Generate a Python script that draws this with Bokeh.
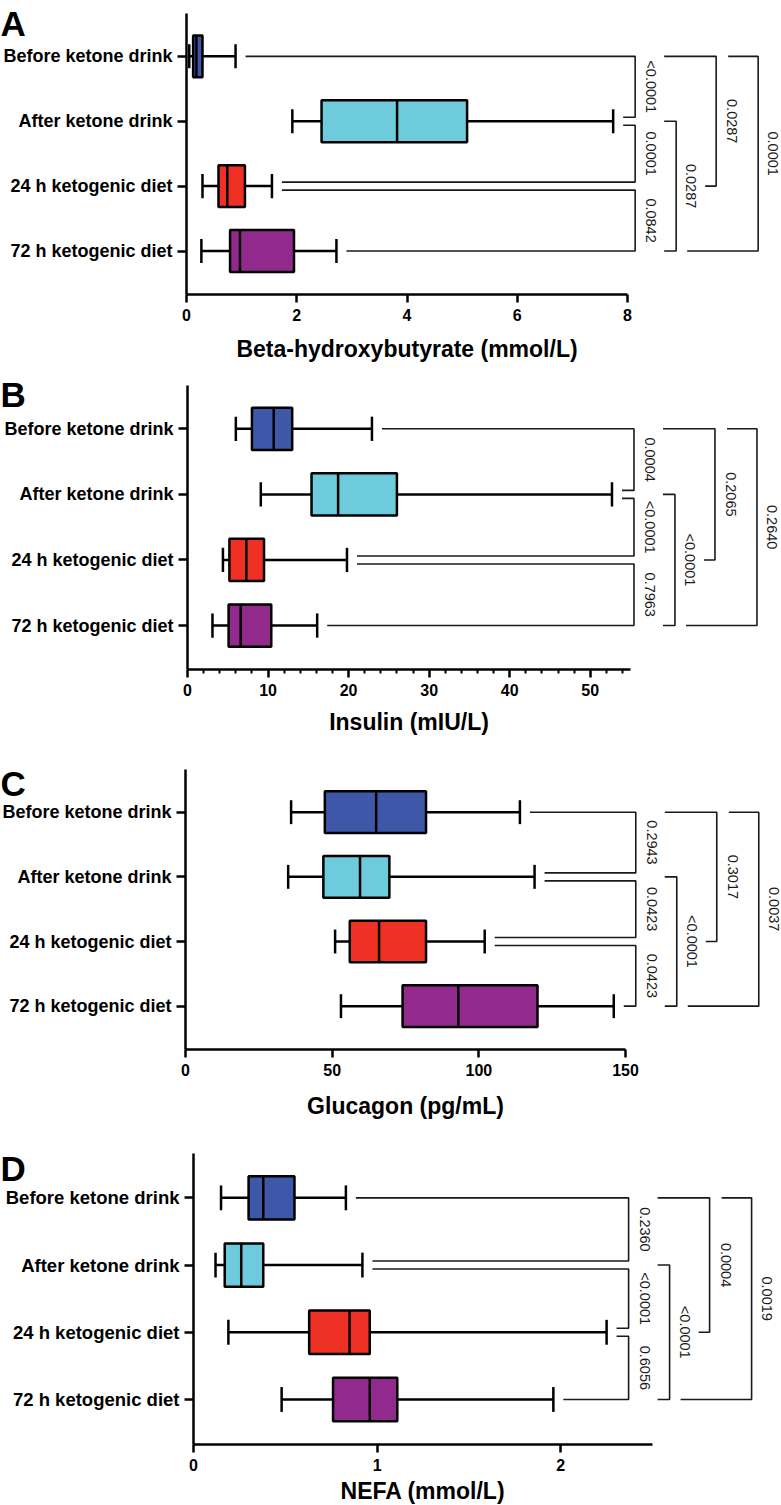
import math
from bokeh.plotting import figure
from bokeh.models import Range1d, FixedTicker, LinearAxis
from bokeh.embed import file_html
from bokeh.resources import INLINE
from bokeh.core.properties import value

# ---------------- data ----------------
categories = ["Before ketone drink", "After ketone drink",
              "24 h ketogenic diet", "72 h ketogenic diet"]
box_colors = ["#3f57a8", "#6dcbdc", "#ee3124", "#922a8e"]

# A: Beta-hydroxybutyrate (mmol/L)
bhb_low = [0.05, 1.92, 0.29, 0.27]
bhb_q1 = [0.12, 2.45, 0.58, 0.79]
bhb_med = [0.18, 3.82, 0.74, 0.97]
bhb_q3 = [0.29, 5.09, 1.06, 1.95]
bhb_high = [0.89, 7.74, 1.55, 2.72]
bhb_ticks = [0, 2, 4, 6, 8]
bhb_p_adjacent = ["<0.0001", "0.0001", "0.0842"]
bhb_p_skip = ["0.0287", "0.0287"]   # Before vs 24 h, After vs 72 h
bhb_p_outer = "0.0001"

# B: Insulin (mIU/L)
ins_low = [6.0, 9.1, 4.4, 3.1]
ins_q1 = [8.0, 15.4, 5.2, 5.1]
ins_med = [10.7, 18.7, 7.3, 6.6]
ins_q3 = [13.0, 26.0, 9.5, 10.4]
ins_high = [22.9, 52.7, 19.8, 16.1]
ins_ticks = [0, 10, 20, 30, 40, 50]
ins_minor = [2, 4, 6, 8, 12, 14, 16, 18, 22, 24, 26, 28, 32, 34, 36, 38,
             42, 44, 46, 48, 52, 54]
ins_p_adjacent = ["0.0004", "<0.0001", "0.7963"]
ins_p_skip = ["0.2065", "<0.0001"]
ins_p_outer = "0.2640"

# C: Glucagon (pg/mL)
glu_low = [36, 35, 51, 53]
glu_q1 = [47.5, 47, 56, 74]
glu_med = [65, 59.5, 66, 93]
glu_q3 = [82, 69.5, 82, 120]
glu_high = [114, 119, 102, 146]
glu_ticks = [0, 50, 100, 150]
glu_p_adjacent = ["0.2943", "0.0423", "0.0423"]
glu_p_skip = ["0.3017", "<0.0001"]
glu_p_outer = "0.0037"

# D: NEFA (mmol/L)
nefa_low = [0.15, 0.12, 0.19, 0.48]
nefa_q1 = [0.30, 0.17, 0.63, 0.76]
nefa_med = [0.38, 0.26, 0.85, 0.96]
nefa_q3 = [0.55, 0.38, 0.96, 1.11]
nefa_high = [0.83, 0.92, 2.25, 1.96]
nefa_ticks = [0, 1, 2]
nefa_p_adjacent = ["0.2360", "<0.0001", "0.6056"]
nefa_p_skip = ["0.0004", "<0.0001"]
nefa_p_outer = "0.0019"

# ---------------- layout (page pixels) ----------------
FONT = "Liberation Sans"
FIG_W, FIG_H = 781, 1505
PAGE_X0, PAGE_Y0 = 0, 0
Y0, Y1 = -0.67, 3.66     # category band limits of each panel's plotting area

fig = figure(width=FIG_W, height=FIG_H, x_range=Range1d(0, 1), y_range=Range1d(0, 1),
             x_axis_location=None, y_axis_location=None,
             output_backend="svg", toolbar_location=None,
             min_border_left=0, min_border_right=0, min_border_top=0, min_border_bottom=0)
fig.outline_line_color = None
fig.grid.visible = False

extra_x, extra_y = {}, {}
panels = []


def add_panel(key, xlabel, low, q1, med, q3, high, ticks, minor, axis_max,
              p_adj, p_skip, p_outer, g):
    ppx = (g["axis_end"] - g["left"]) / axis_max
    ppy = (g["bottom"] - g["top"]) / (Y1 - Y0)
    xr = Range1d((PAGE_X0 - g["left"]) / ppx, (PAGE_X0 + FIG_W - g["left"]) / ppx)
    yr = Range1d(Y1 - (PAGE_Y0 + FIG_H - g["top"]) / ppy, Y1 + (g["top"] - PAGE_Y0) / ppy)
    extra_x[key] = xr
    extra_y[key] = yr
    panels.append((key, xlabel, low, q1, med, q3, high, ticks, minor, axis_max,
                   p_adj, p_skip, p_outer, g, ppx, ppy))


def draw_panel(key, xlabel, low, q1, med, q3, high, ticks, minor, axis_max,
               p_adj, p_skip, p_outer, g, ppx, ppy):
    kw = dict(x_range_name=key, y_range_name=key)
    ys = [3 - i for i in range(len(categories))]
    n = len(categories)
    lw = 2.5
    # whiskers and caps
    fig.segment(x0=low, y0=ys, x1=q1, y1=ys, line_color="black", line_width=lw, **kw)
    fig.segment(x0=q3, y0=ys, x1=high, y1=ys, line_color="black", line_width=lw, **kw)
    cap = 0.185
    fig.segment(x0=low, y0=[y - cap for y in ys], x1=low, y1=[y + cap for y in ys],
                line_color="black", line_width=lw, **kw)
    fig.segment(x0=high, y0=[y - cap for y in ys], x1=high, y1=[y + cap for y in ys],
                line_color="black", line_width=lw, **kw)
    # boxes and medians
    bh = 0.645
    fig.hbar(y=ys, height=bh, left=q1, right=q3, fill_color=box_colors,
             line_color="black", line_width=lw, **kw)
    fig.segment(x0=med, y0=[y - bh / 2 for y in ys], x1=med, y1=[y + bh / 2 for y in ys],
                line_color="black", line_width=lw, **kw)

    # significance brackets
    gap = 10 / ppx
    starts = [h + gap for h in high]
    L1 = max(high) + 22 / ppx
    off = 4 / ppy
    bx, by, tx, ty, tt = [], [], [], [], []
    for i in range(n - 1):
        top_y = ys[i] - (off if i > 0 else 0)
        bot_y = ys[i + 1] + (off if i + 1 < n - 1 else 0)
        bx.append([starts[i], L1, L1, starts[i + 1]])
        by.append([top_y, top_y, bot_y, bot_y])
        tx.append(L1 + 16 / ppx); ty.append((top_y + bot_y) / 2); tt.append(p_adj[i])
    xv = L1 + g["l2a"] / ppx                      # Before vs 24 h
    bx.append([L1 + g["l2_arm"] / ppx, xv, xv, L1 + g["l2a_bot"] / ppx])
    by.append([ys[0], ys[0], ys[2], ys[2]])
    tx.append(xv + 16 / ppx); ty.append((ys[0] + ys[2]) / 2); tt.append(p_skip[0])
    xv = L1 + g["l2b"] / ppx                      # After vs 72 h
    bx.append([L1 + g["l2_arm"] / ppx, xv, xv, L1 + g["l2_arm"] / ppx])
    by.append([ys[1], ys[1], ys[3], ys[3]])
    tx.append(xv + 15 / ppx); ty.append((ys[1] + ys[3]) / 2); tt.append(p_skip[1])
    xv = L1 + g["l3"] / ppx                       # Before vs 72 h
    bx.append([L1 + g["l3_top"] / ppx, xv, xv, L1 + g["l3_bot"] / ppx])
    by.append([ys[0], ys[0], ys[3], ys[3]])
    tx.append(xv + 15 / ppx); ty.append((ys[0] + ys[3]) / 2); tt.append(p_outer)

    fig.multi_line(xs=bx, ys=by, line_color="#1a1a1a", line_width=1.6, **kw)
    fig.text(x=tx, y=ty, text=tt, angle=-math.pi / 2, text_align="center",
             text_baseline="middle", text_font=value(FONT), text_font_size="14.5px",
             text_color="#1a1a1a", **kw)

    # axis title and panel letter (vertically centred on their capitals)
    fig.text(x=[axis_max / 2], y=[Y0 - (g["title_mid"] - g["bottom"]) / ppy], text=[xlabel],
             text_align="center", text_baseline="middle", text_font=value(FONT),
             text_font_size="23px", text_font_style="bold", text_color="black", **kw)
    fig.text(x=[(PAGE_X0 - g["left"]) / ppx], y=[Y1 - (g["letter_mid"] - g["top"]) / ppy],
             text=[key], text_align="left", text_baseline="middle",
             text_font=value(FONT), text_font_size="35px", text_font_style="bold",
             text_color="black", **kw)

    # axes (library axes, pinned to the panel's data coordinates)
    xa = LinearAxis(fixed_location=Y0, bounds=(0, axis_max),
                    ticker=FixedTicker(ticks=ticks, minor_ticks=minor), **kw)
    xa.axis_line_width = lw
    xa.axis_line_color = "black"
    xa.major_tick_line_width = lw
    xa.major_tick_line_color = "black"
    xa.major_tick_out = 8
    xa.major_tick_in = 0
    xa.minor_tick_line_width = 2
    xa.minor_tick_line_color = "black"
    xa.minor_tick_out = 4
    xa.minor_tick_in = 0
    xa.major_label_text_font = FONT
    xa.major_label_text_font_size = "16px"
    xa.major_label_text_font_style = "bold"
    xa.major_label_text_color = "black"
    xa.major_label_standoff = 6
    fig.add_layout(xa, "below")

    ya = LinearAxis(fixed_location=0, bounds=(Y0, Y1), ticker=FixedTicker(ticks=ys), **kw)
    ya.major_label_overrides = {ys[i]: categories[i] for i in range(n)}
    ya.axis_line_width = lw
    ya.axis_line_color = "black"
    ya.major_tick_line_width = lw
    ya.major_tick_line_color = "black"
    ya.major_tick_out = 9
    ya.major_tick_in = 0
    ya.minor_tick_line_color = None
    ya.major_label_text_font = FONT
    ya.major_label_text_font_size = g["cat_font"]
    ya.major_label_text_font_style = "bold"
    ya.major_label_text_color = "black"
    ya.major_label_standoff = 5
    fig.add_layout(ya, "left")


common = dict(l2_arm=29, l2a=81, l2a_bot=70, l2b=41, l3=123, l3_top=93, l3_bot=52)

add_panel("A", "Beta-hydroxybutyrate (mmol/L)", bhb_low, bhb_q1, bhb_med, bhb_q3,
          bhb_high, bhb_ticks, [], 8, bhb_p_adjacent, bhb_p_skip, bhb_p_outer,
          dict(common, top=13, bottom=294, left=186, axis_end=627,
               letter_mid=22.5, title_mid=348.5, cat_font="18px"))
add_panel("B", "Insulin (mIU/L)", ins_low, ins_q1, ins_med, ins_q3, ins_high,
          ins_ticks, ins_minor, 55, ins_p_adjacent, ins_p_skip, ins_p_outer,
          dict(common, top=385, bottom=669, left=187, axis_end=630,
               letter_mid=394, title_mid=721.5, cat_font="18px"))
add_panel("C", "Glucagon (pg/mL)", glu_low, glu_q1, glu_med, glu_q3, glu_high,
          glu_ticks, [], 150, glu_p_adjacent, glu_p_skip, glu_p_outer,
          dict(common, top=769, bottom=1049, left=185, axis_end=625,
               letter_mid=782.5, title_mid=1105, cat_font="18px"))
add_panel("D", "NEFA (mmol/L)", nefa_low, nefa_q1, nefa_med, nefa_q3, nefa_high,
          nefa_ticks, [], 2.5, nefa_p_adjacent, nefa_p_skip, nefa_p_outer,
          dict(common, top=1153, bottom=1444, left=193, axis_end=652,
               letter_mid=1167.5, title_mid=1490, cat_font="18.5px"))

fig.extra_x_ranges = extra_x
fig.extra_y_ranges = extra_y
for args in panels:
    draw_panel(*args)

open("out.html", "w").write(file_html(fig, INLINE))
